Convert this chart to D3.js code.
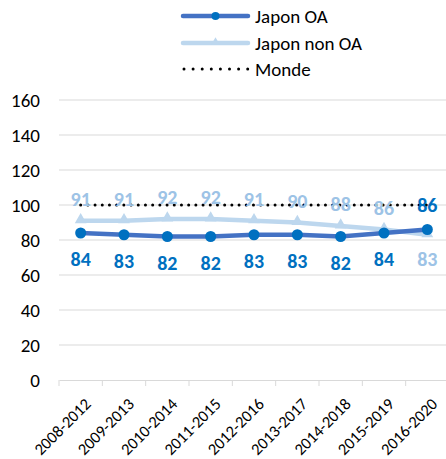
<!DOCTYPE html>
<html><head><meta charset="utf-8">
<script src="https://cdn.jsdelivr.net/npm/d3@7"></script>
<style>
html,body{margin:0;padding:0;background:#fff;}
svg{display:block;font-family:Carlito,Lato,"Liberation Sans",sans-serif;}
</style></head>
<body><svg id="c" width="446" height="459"></svg>
<script>
const categories = ["2008-2012","2009-2013","2010-2014","2011-2015","2012-2016","2013-2017","2014-2018","2015-2019","2016-2020"];
const japonOA = [84,83,82,82,83,83,82,84,86];
const japonNonOA = [91,91,92,92,91,90,88,86,83];
const monde = [100,100,100,100,100,100,100,100,100];
const yTicks = [0,20,40,60,80,100,120,140,160];
const seriesNames = ["Japon OA","Japon non OA","Monde"];

(function(){
const svg = d3.select("#c");
const pLeft = 59, pRight = 449, pTop = 100, pBottom = 380;
const x = d3.scaleBand().domain(categories).range([pLeft, pRight]);
const y = d3.scaleLinear().domain([0,160]).range([pBottom, pTop]);
const cx = d => x(d) + x.bandwidth()/2;

// gridlines
svg.append("g").selectAll("line").data(yTicks.filter(t=>t>0)).join("line")
  .attr("x1", pLeft).attr("x2", 446).attr("y1", d=>y(d)).attr("y2", d=>y(d))
  .attr("stroke","#d9d9d9").attr("stroke-width",1);
// y axis labels
svg.append("g").selectAll("text").data(yTicks).join("text")
  .attr("x", 40).attr("y", d=>y(d)).attr("dy","0.35em").attr("text-anchor","end")
  .attr("font-size",19).attr("fill","#000").text(d=>d);
// x axis
const xa = svg.append("g").attr("transform",`translate(0,${pBottom})`)
  .call(d3.axisBottom(x).tickSize(0).tickFormat(""));
xa.select(".domain").attr("stroke","#d9d9d9");
svg.append("g").selectAll("line").data(categories.concat(["__end"])).join("line")
  .attr("x1", (d,i)=> pLeft + i*x.step()).attr("x2",(d,i)=> pLeft + i*x.step())
  .attr("y1", pBottom).attr("y2", pBottom+6).attr("stroke","#d9d9d9");
svg.append("g").selectAll("text").data(categories).join("text")
  .attr("transform", d=>`translate(${cx(d)+3},${pBottom+17}) rotate(-45)`)
  .attr("dy","0.7em")
  .attr("text-anchor","end").attr("font-size",16.5).attr("fill","#000").text(d=>d);

const line = d3.line().x((d,i)=>cx(categories[i])).y(d=>y(d));
// Monde dotted
svg.append("path").datum(monde).attr("d",line).attr("fill","none")
  .attr("stroke","#000").attr("stroke-width",3).attr("stroke-linecap","round")
  .attr("stroke-dasharray","0,7.2");
// non OA
svg.append("path").datum(japonNonOA).attr("d",line).attr("fill","none")
  .attr("stroke","#bdd7ee").attr("stroke-width",4.5);
svg.append("g").selectAll("path").data(japonNonOA).join("path")
  .attr("d", d3.symbol(d3.symbolTriangle, 60))
  .attr("transform",(d,i)=>`translate(${cx(categories[i])},${y(d)-1})`)
  .attr("fill","#bdd7ee");
// OA
svg.append("path").datum(japonOA).attr("d",line).attr("fill","none")
  .attr("stroke","#4472c4").attr("stroke-width",4.5);
svg.append("g").selectAll("circle").data(japonOA).join("circle")
  .attr("cx",(d,i)=>cx(categories[i])).attr("cy",d=>y(d)).attr("r",5.5)
  .attr("fill","#0070c0");

// labels
const last = categories.length-1;
svg.append("g").selectAll("text").data(japonNonOA).join("text")
  .attr("x",(d,i)=>cx(categories[i])).attr("y",(d,i)=> i===last ? y(d)+31 : y(d)-15)
  .attr("text-anchor","middle").attr("font-size",20).attr("font-weight","bold")
  .attr("fill","#9dc3e6").text(d=>d);
svg.append("g").selectAll("text").data(japonOA).join("text")
  .attr("x",(d,i)=>cx(categories[i])).attr("y",(d,i)=> i===last ? y(d)-18 : y(d)+33)
  .attr("text-anchor","middle").attr("font-size",20).attr("font-weight","bold")
  .attr("fill","#0070c0").text(d=>d);

// legend
const lg = svg.append("g");
const ly = [16,43,69];
lg.append("line").attr("x1",183).attr("x2",248).attr("y1",ly[0]).attr("y2",ly[0])
  .attr("stroke","#4472c4").attr("stroke-width",4.5).attr("stroke-linecap","round");
lg.append("circle").attr("cx",215.5).attr("cy",ly[0]).attr("r",4).attr("fill","#0070c0");
lg.append("line").attr("x1",183).attr("x2",248).attr("y1",ly[1]).attr("y2",ly[1])
  .attr("stroke","#bdd7ee").attr("stroke-width",4.5).attr("stroke-linecap","round");
lg.append("path").attr("d",d3.symbol(d3.symbolTriangle,30))
  .attr("transform",`translate(215.5,${ly[1]-1})`).attr("fill","#bdd7ee");
lg.append("line").attr("x1",184).attr("x2",248).attr("y1",ly[2]).attr("y2",ly[2])
  .attr("stroke","#000").attr("stroke-width",3).attr("stroke-linecap","round")
  .attr("stroke-dasharray","0,9.1");
lg.selectAll("text").data(seriesNames).join("text")
  .attr("x",255).attr("y",(d,i)=>ly[i]).attr("dy","0.35em")
  .attr("font-size",19).attr("fill","#000").text(d=>d);
})();
</script></body></html>
